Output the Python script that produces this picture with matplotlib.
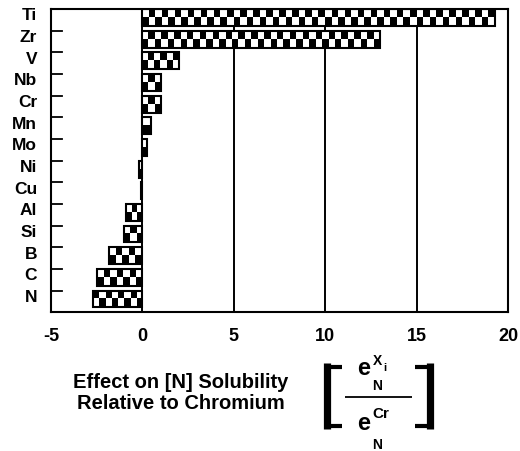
import numpy as np
import matplotlib
matplotlib.use("Agg")
import matplotlib.pyplot as plt
import matplotlib.transforms as mtransforms
from matplotlib.lines import Line2D

elements = ['Ti', 'Zr', 'V', 'Nb', 'Cr', 'Mn', 'Mo', 'Ni', 'Cu', 'Al', 'Si', 'B', 'C', 'N']
effect = [19.3, 13.0, 2.0, 1.0, 1.0, 0.45, 0.25, -0.2, -0.1, -0.9, -1.0, -1.8, -2.5, -2.7]
xticks = [-5, 0, 5, 10, 15, 20]

plt.rcParams['font.family'] = ['Liberation Sans', 'DejaVu Sans']
plt.rcParams['font.weight'] = 'bold'

W, H = 520, 452
fig = plt.figure(figsize=(W / 100, H / 100), dpi=100)
ax = fig.add_axes([51 / W, 1 - 313 / H, 457 / W, 303 / H])

ypos = np.arange(len(elements))
bar_h = 0.78
cell_x = 0.355  # checker square width in data units

for y, v in zip(ypos, effect):
    ncols = max(1, int(round(abs(v) / cell_x)))
    checker = np.indices((2, ncols)).sum(axis=0) % 2
    ax.imshow(checker, cmap='gray_r', extent=[0, v, y + bar_h / 2, y - bar_h / 2],
              aspect='auto', interpolation='nearest', zorder=2, vmin=0, vmax=1)
ax.barh(ypos, effect, height=bar_h, facecolor='none', edgecolor='black',
        linewidth=1.5, zorder=3)

for x in [0, 5, 10, 15]:
    ax.axvline(x, color='black', linewidth=1.4, zorder=1)

ax.set_xlim(-5, 20)
ax.set_ylim(13.6, -0.39)
ax.set_xticks(xticks)
ax.set_xticklabels([str(t) for t in xticks], fontsize=13, fontweight='bold')
ax.tick_params(axis='x', length=0, pad=11)

ax.set_yticks(ypos)
ax.set_yticklabels(elements, fontsize=12.5, fontweight='bold')
ax.tick_params(axis='y', length=0, pad=10)
shift = mtransforms.ScaledTranslation(0, 3 / 72, fig.dpi_scale_trans)
for lab in ax.get_yticklabels():
    lab.set_transform(lab.get_transform() + shift)
for y in ypos[1:]:
    ax.plot([-5, -4.4], [y - bar_h / 2, y - bar_h / 2], color='black', linewidth=1.3,
            clip_on=False, zorder=4)

for s in ax.spines.values():
    s.set_linewidth(1.5)

fig.text(181 / W, 1 - 393 / H, 'Effect on [N] Solubility\nRelative to Chromium', ha='center',
         va='center', fontsize=14.5, fontweight='bold', linespacing=1.1)


# bracketed ratio  e_N^Xi / e_N^Cr, placed in pixel units
def px(x, y):
    return x / W, 1 - y / H


def t(x, y, s, size, ha='left'):
    fx, fy = px(x, y)
    fig.text(fx, fy, s, fontsize=size, fontweight='bold', ha=ha, va='baseline')


def ln(xs, ys, lw):
    fig.add_artist(Line2D([x / W for x in xs], [1 - y / H for y in ys], color='black',
                          linewidth=lw, solid_capstyle='butt', transform=fig.transFigure))


ln([327, 327], [364, 430], 5.2)
ln([324, 342], [367.5, 367.5], 3)
ln([324, 342], [426.5, 426.5], 3)
ln([430, 430], [364, 430], 5.2)
ln([415, 433], [367.5, 367.5], 3)
ln([415, 433], [426.5, 426.5], 3)
ln([345, 412], [398, 398], 1.3)

t(357, 375, 'e', 17)
t(372.5, 365, 'X', 10)
t(383.5, 371, 'i', 8)
t(372.5, 390, 'N', 10)
t(357, 430, 'e', 17)
t(372, 418, 'Cr', 11)
t(372.5, 449, 'N', 10)

fig.savefig('out.png', dpi=100, facecolor='white')
